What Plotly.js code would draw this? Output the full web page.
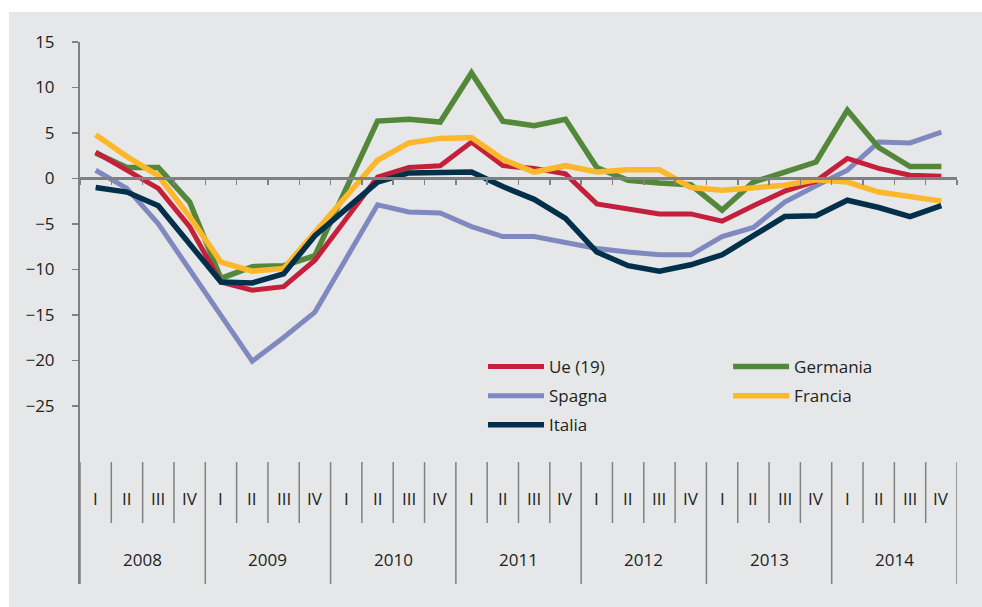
<!DOCTYPE html>
<html>
<head>
<meta charset="utf-8">
<script src="https://cdn.plot.ly/plotly-3.0.1.min.js"></script>
<style>
  body { margin: 0; background: #ffffff; }
  #chart { position: absolute; left: 9px; top: 12px; width: 973px; height: 595px; }
</style>
</head>
<body>
<div id="chart"></div>
<script>
// quarters and years for the category table under the chart
var quarters = ["I", "II", "III", "IV"];
var years = ["2008", "2009", "2010", "2011", "2012", "2013", "2014"];

// values, 2008 I .. 2014 IV
var ue = [2.9, 0.9, -1.1, -5.3, -11.4, -12.3, -11.9, -9.0, -4.4, 0.15, 1.2, 1.4,
  4.0, 1.4, 1.1, 0.5, -2.8, -3.4, -3.9, -3.9, -4.7, -3.0, -1.4, -0.3, 2.2, 1.1, 0.35, 0.25];
var germania = [2.8, 1.2, 1.2, -2.6, -11.0, -9.7, -9.6, -8.5, -1.1, 6.3, 6.5, 6.2,
  11.6, 6.3, 5.8, 6.5, 1.2, -0.2, -0.5, -0.7, -3.5, -0.4, 0.7, 1.8, 7.5, 3.4, 1.3, 1.3];
var spagna = [0.9, -1.1, -5.0, -10.0, -15.0, -20.1, -17.5, -14.7, -8.8, -2.9, -3.7, -3.8,
  -5.3, -6.4, -6.4, -7.1, -7.7, -8.1, -8.4, -8.4, -6.4, -5.4, -2.6, -0.8, 0.9, 4.0, 3.9, 5.1];
var francia = [4.8, 2.4, 0.3, -4.2, -9.2, -10.2, -9.9, -6.0, -2.0, 2.0, 3.9, 4.4,
  4.5, 2.1, 0.7, 1.4, 0.7, 0.95, 0.95, -1.0, -1.3, -0.95, -0.75, -0.15, -0.4, -1.5, -2.0, -2.5];
var italia = [-1.0, -1.5, -3.0, -7.2, -11.4, -11.5, -10.5, -6.3, -3.3, -0.4, 0.6, 0.6,
  0.7, -0.9, -2.3, -4.4, -8.1, -9.6, -10.2, -9.5, -8.4, -6.3, -4.2, -4.1, -2.4, -3.2, -4.2, -3.0];

var yTicks = [-25, -20, -15, -10, -5, 0, 5, 10, 15];

// x positions: one slot per quarter
var xs = [];
years.forEach((y, i) => quarters.forEach((q, j) => xs.push(i * 4 + j)));

var gray = "#808080";
var textColor = "#231f20";
var fontFam = "'Open Sans', 'Noto Sans', sans-serif";

function line(name, values, color, width, legend, rank) {
  return {
    x: xs, y: values, name: name, type: "scatter", mode: "lines",
    line: { color: color, width: width },
    legend: legend, legendgroup: name, legendrank: rank
  };
}

// drawing order (bottom to top); two legend columns
var data = [
  line("Spagna", spagna, "#7f89bf", 5, "legend", 2),
  line("Germania", germania, "#53883a", 5.5, "legend2", 1),
  line("Ue (19)", ue, "#c41f3b", 5, "legend", 1),
  line("Francia", francia, "#fcb72a", 5.5, "legend2", 2),
  line("Italia", italia, "#02304b", 5.5, "legend", 3)
];

var yMin = -44.6, yMax = 15;
var nQ = xs.length;

// table under the chart: separators and labels
var qTop = 0.225, qBottom = 0.1125;
var shapes = [];
var annotations = [];
for (var k = 0; k <= nQ; k++) {
  shapes.push({
    type: "line", xref: "x", yref: "paper",
    x0: k - 0.5, x1: k - 0.5,
    y0: (k % 4 === 0) ? 0 : qBottom, y1: qTop,
    line: { color: gray, width: 1.5 }
  });
}
xs.forEach((x, i) => {
  annotations.push({
    x: x, y: 0.1585, xref: "x", yref: "paper", yanchor: "middle",
    text: quarters[i % 4], showarrow: false,
    font: { size: 17, color: textColor, family: fontFam }
  });
});
years.forEach((yr, i) => {
  annotations.push({
    x: i * 4 + 1.5, y: 0.046, xref: "x", yref: "paper", yanchor: "middle",
    text: yr, showarrow: false,
    font: { size: 17, color: textColor, family: fontFam }
  });
});

var boundaries = [];
for (var b = 0; b <= nQ; b++) boundaries.push(b - 0.5);

var legendStyle = {
  orientation: "v", yanchor: "top", xanchor: "left", y: 0.4336,
  bgcolor: "rgba(0,0,0,0)", itemwidth: 56, traceorder: "grouped",
  tracegroupgap: 4, font: { size: 17, color: textColor, family: fontFam }
};

var layout = {
  width: 973, height: 595,
  margin: { l: 71, r: 25, t: 30, b: 23 },
  paper_bgcolor: "#e6e7e8",
  plot_bgcolor: "#e6e7e8",
  font: { family: fontFam, color: textColor, size: 17 },
  showlegend: true,
  legend: Object.assign({}, legendStyle, { x: 0.4595 }),
  legend2: Object.assign({}, legendStyle, { x: 0.739 }),
  xaxis: {
    range: [-0.5, nQ - 0.5], anchor: "free",
    position: (0 - yMin) / (yMax - yMin),
    showline: true, linecolor: gray, linewidth: 2.5,
    ticks: "outside", ticklen: 5, tickwidth: 1.5, tickcolor: gray,
    tickvals: boundaries, showticklabels: false,
    showgrid: false, zeroline: false, fixedrange: true
  },
  yaxis: {
    range: [yMin, yMax], tickvals: yTicks,
    showline: true, linecolor: gray, linewidth: 2,
    ticks: "outside", ticklen: 6, tickwidth: 1.5, tickcolor: gray,
    ticklabelstandoff: 14,
    showgrid: false, zeroline: false,
    tickfont: { size: 17, color: textColor, family: fontFam }
  },
  shapes: shapes,
  annotations: annotations
};

Plotly.newPlot("chart", data, layout, { displayModeBar: false, staticPlot: true });
</script>
</body>
</html>
